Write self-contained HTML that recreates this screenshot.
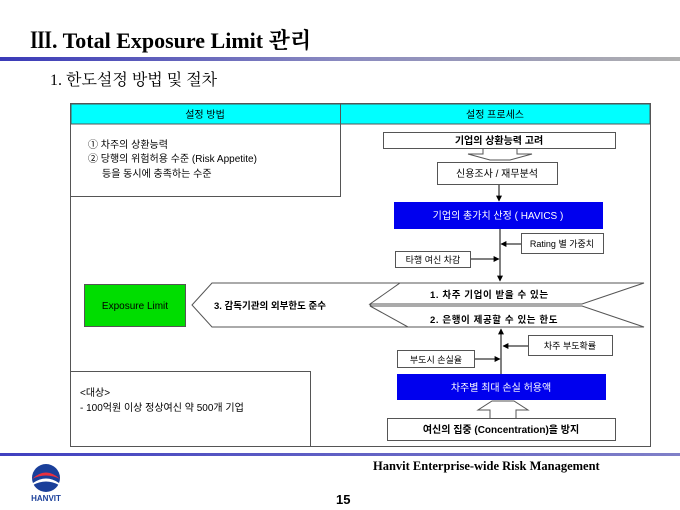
<!DOCTYPE html>
<html><head><meta charset="utf-8"><style>
html,body{margin:0;padding:0;background:#fff;width:680px;height:510px;overflow:hidden}
svg{display:block}
.k{font-family:"Liberation Sans","Noto Sans CJK KR",sans-serif}
</style></head><body>
<svg width="680" height="510" viewBox="0 0 680 510" xmlns="http://www.w3.org/2000/svg">
<defs>
<linearGradient id="g1" x1="0" x2="1"><stop offset="0" stop-color="#3a3ab8"/><stop offset="0.5" stop-color="#8a8ac0"/><stop offset="1" stop-color="#b0b0b0"/></linearGradient>
<linearGradient id="g2" x1="0" x2="1"><stop offset="0" stop-color="#4040c0"/><stop offset="1" stop-color="#8080c8"/></linearGradient>
<marker id="ar" viewBox="0 0 10 10" refX="9" refY="5" markerWidth="6" markerHeight="6" orient="auto"><path d="M0,0L10,5L0,10z" fill="#000"/></marker>
</defs>
<text x="30" y="48" font-family="Liberation Serif,Noto Serif CJK SC,serif" font-weight="bold" font-size="22">Ⅲ. Total Exposure Limit 관리</text>
<rect x="0" y="57" width="680" height="4" fill="url(#g1)"/>
<text x="50" y="85" font-family="Liberation Serif,Noto Serif CJK SC,serif" font-size="16">1. 한도설정 방법 및 절차</text>

<g class="k" font-size="10">
<rect x="70.5" y="103.5" width="580" height="343" fill="#fff" stroke="#555"/>
<rect x="71" y="104" width="579" height="20" fill="#00ffff" stroke="#555"/>
<line x1="340.5" y1="104" x2="340.5" y2="196" stroke="#555"/>
<line x1="70" y1="196.5" x2="341" y2="196.5" stroke="#555"/>
<text x="205" y="118" text-anchor="middle">설정 방법</text>
<text x="495" y="118" text-anchor="middle">설정 프로세스</text>
<text x="88" y="148">① 차주의 상환능력</text>
<text x="88" y="162">② 당행의 위험허용 수준 (Risk Appetite)</text>
<text x="102" y="177">등을 동시에 충족하는 수준</text>

<rect x="70.5" y="371.5" width="240" height="75" fill="#fff" stroke="#555"/>
<text x="80" y="396">&lt;대상&gt;</text>
<text x="80" y="411">- 100억원 이상 정상여신 약 500개 기업</text>

<rect x="383.5" y="132.5" width="232" height="16" fill="#fff" stroke="#555"/>
<text x="499" y="144" text-anchor="middle" font-weight="bold">기업의 상환능력 고려</text>
<path d="M483,149 V154 H468 L490,160 H510 L532,154 H517 V149" fill="#fff" stroke="#555"/>
<rect x="437.5" y="162.5" width="120" height="22" fill="#fff" stroke="#555"/>
<text x="497" y="177" text-anchor="middle">신용조사 / 재무분석</text>
<line x1="499" y1="185" x2="499" y2="201" stroke="#000" marker-end="url(#ar)"/>
<rect x="394" y="202" width="209" height="27" fill="#0000ee"/>
<text x="498" y="219" text-anchor="middle" fill="#fff">기업의 총가치 산정 ( HAVICS )</text>
<line x1="500" y1="229" x2="500" y2="281" stroke="#000" marker-end="url(#ar)"/>
<rect x="521.5" y="233.5" width="82" height="20" fill="#fff" stroke="#555"/>
<text x="562" y="247" text-anchor="middle" font-size="9">Rating 별 가중치</text>
<line x1="521" y1="244" x2="501" y2="244" stroke="#000" marker-end="url(#ar)"/>
<rect x="395.5" y="251.5" width="75" height="16" fill="#fff" stroke="#555"/>
<text x="433" y="263" text-anchor="middle" font-size="9">타행 여신 차감</text>
<line x1="471" y1="259" x2="499" y2="259" stroke="#000" marker-end="url(#ar)"/>

<rect x="84.5" y="284.5" width="101" height="42" fill="#00dd00" stroke="#555"/>
<text x="135" y="309" text-anchor="middle">Exposure Limit</text>
<polygon points="192,305 212,283 400,283 370,305 408,327 212,327" fill="#fff" stroke="#555"/>
<polygon points="370,304 400,283 644,283 582,304" fill="#fff" stroke="#555"/>
<polygon points="370,306 582,306 644,327 408,327" fill="#fff" stroke="#555"/>
<text x="214" y="309" font-weight="bold" font-size="9.5">3. 감독기관의 외부한도 준수</text>
<text x="430" y="298" font-weight="bold" font-size="9.5" letter-spacing="0.6">1. 차주 기업이 받을 수 있는</text>
<text x="430" y="323" font-weight="bold" font-size="9.5" letter-spacing="0.6">2. 은행이 제공할 수 있는 한도</text>

<line x1="501" y1="374" x2="501" y2="329" stroke="#000" marker-end="url(#ar)"/>
<rect x="528.5" y="335.5" width="84" height="20" fill="#fff" stroke="#555"/>
<text x="570" y="349" text-anchor="middle" font-size="9">차주 부도확률</text>
<line x1="528" y1="346" x2="503" y2="346" stroke="#000" marker-end="url(#ar)"/>
<rect x="397.5" y="350.5" width="77" height="17" fill="#fff" stroke="#555"/>
<text x="436" y="363" text-anchor="middle" font-size="9">부도시 손실율</text>
<line x1="475" y1="359" x2="500" y2="359" stroke="#000" marker-end="url(#ar)"/>
<rect x="397" y="374" width="209" height="26" fill="#0000ee"/>
<text x="501" y="391" text-anchor="middle" fill="#fff">차주별 최대 손실 허용액</text>
<path d="M490,418 V410 H478 L492,401 H514 L528,410 H516 V418" fill="#fff" stroke="#555"/>
<rect x="387.5" y="418.5" width="228" height="22" fill="#fff" stroke="#555"/>
<text x="501" y="433" text-anchor="middle" font-weight="bold">여신의 집중 (Concentration)을 방지</text>
</g>

<rect x="0" y="453" width="680" height="3" fill="url(#g2)"/>
<text x="373" y="470" font-family="Liberation Serif,serif" font-weight="bold" font-size="12.5">Hanvit Enterprise-wide Risk Management</text>
<text x="336" y="504" font-family="Liberation Sans,sans-serif" font-weight="bold" font-size="13">15</text>
<circle cx="46" cy="478" r="14" fill="#1a3f9a"/>
<path d="M32,479 Q46,466 60,479 Q46,472 32,479z" fill="#e83040"/>
<path d="M33,483 Q46,474 59,483 L59,485 Q46,478 33,485z" fill="#fff"/>
<text x="46" y="501" text-anchor="middle" font-family="Liberation Sans,sans-serif" font-weight="bold" font-size="8" fill="#1a3f9a">HANVIT</text>
</svg>
</body></html>
